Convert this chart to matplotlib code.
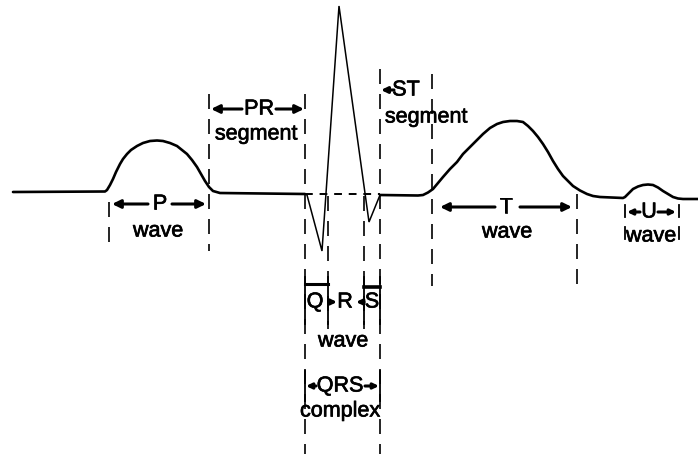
import matplotlib
matplotlib.use("Agg")
import matplotlib.pyplot as plt
import matplotlib.patheffects as pe

# ---- ECG trace (x, y in picture units, y down) ----
p_x = [13, 105, 107, 110, 113, 116, 120, 123, 127, 131, 137, 143, 150, 157, 163,
       170, 177, 182, 187, 192, 197, 201, 205, 209, 213, 220, 305]
p_y = [193, 192.5, 191, 186, 180, 173, 165, 160, 155, 151, 147, 144, 142, 141.5, 142,
       144, 147, 151, 155, 161, 168, 175, 182, 188, 192, 194, 195]

qrs_x = [305, 307, 322, 339, 369, 380]
qrs_y = [195, 196, 252, 7, 223, 196]

tu_x = [380, 418, 423, 428, 433, 438, 443, 450, 457, 463, 470, 477, 483, 490, 497,
        503, 510, 517, 523, 528, 533, 538, 543, 548, 553, 558, 563, 568, 573, 580,
        587, 593, 600, 623, 625, 629, 633, 638, 643, 648, 653, 658, 663, 668, 673,
        678, 683, 698]
tu_y = [196, 196.5, 196, 193.5, 190, 184, 178, 170, 163, 155, 148, 141, 135, 129, 125,
        123, 122, 122, 123, 127, 132, 138, 145, 153, 162, 170, 177, 182, 187, 191.5,
        195, 197, 198, 199, 198, 194, 190, 187.5, 186, 185.5, 186, 188.5, 192, 195, 198,
        199.5, 200, 200]

# isoelectric reference through the QRS
iso_x = [305, 380]
iso_y = [195, 195]

# interval boundaries (x) and their vertical extents
bound_x = [109, 209, 305, 328, 364, 380, 432, 577]
bound_top = [203, 95, 95, 197, 197, 70, 75, 195]
bound_bot = [252, 252, 455, 330, 330, 455, 287, 290]

labels = ["P", "wave", "PR", "segment", "ST", "segment", "T", "wave",
          "U", "wave", "Q", "R", "S", "wave", "QRS", "complex"]

fig = plt.figure(figsize=(6.98, 4.60), dpi=100)
ax = fig.add_axes([0, 0, 1, 1])
ax.set_xlim(0, 698)
ax.set_ylim(460, 0)
ax.axis("off")

ink = "black"
ax.plot(p_x, p_y, color=ink, lw=1.9, solid_capstyle="round", solid_joinstyle="round")
ax.plot(qrs_x, qrs_y, color=ink, lw=1.1, solid_joinstyle="miter")
ax.plot(tu_x, tu_y, color=ink, lw=1.9, solid_capstyle="round", solid_joinstyle="round")
ax.plot(iso_x, iso_y, color=ink, lw=1.4, linestyle=(0, (4, 3.5)))

for x, t, b in zip(bound_x, bound_top, bound_bot):
    ax.plot([x, x], [t, b], color=ink, lw=1.2, linestyle=(0, (9, 6)))

# short solid bars of the U wave bracket
for x in (625, 679):
    ax.plot([x, x], [206, 218], color=ink, lw=1.3)
    ax.plot([x, x], [228, 240], color=ink, lw=1.3)

fs = 15.5
FAM = ["Liberation Sans", "DejaVu Sans"]
def txt(s, x, y, size=fs):
    ax.text(x, y, s, ha="center", va="center", fontsize=size,
            family=FAM, color=ink,
            path_effects=[pe.withStroke(linewidth=0.5, foreground=ink)])

def arrow(x0, y0, x1, y1, ms=11):
    ax.annotate("", xy=(x1, y1), xytext=(x0, y0),
                arrowprops=dict(arrowstyle="-|>,head_length=0.45,head_width=0.22",
                                color=ink, lw=2.2, mutation_scale=ms,
                                shrinkA=0, shrinkB=0))

# P wave
txt(labels[0], 160, 205)
arrow(148, 205, 112, 205)
arrow(172, 205, 206, 205)
txt(labels[1], 158, 232)

# PR segment
txt(labels[2], 259, 110)
arrow(242, 110, 211, 110)
arrow(276, 110, 304, 110)
txt(labels[3], 256, 135)

# ST segment
txt(labels[4], 406, 91)
arrow(394, 91, 381, 91, ms=8)
txt(labels[5], 426, 118)

# T wave
txt(labels[6], 506, 208)
arrow(495, 208, 440, 208)
arrow(520, 208, 572, 208)
txt(labels[7], 507, 233)

# U wave
txt(labels[8], 649, 213)
arrow(640, 213, 627, 213, ms=7)
arrow(658, 213, 676, 213, ms=7)
txt(labels[9], 651, 237)

# Q, R, S waves
ax.plot([305, 328], [285, 285], color=ink, lw=2.2)
ax.plot([364, 380], [288, 288], color=ink, lw=2.6)
for x in (305, 328, 364, 380):
    ax.plot([x, x], [278, 325], color=ink, lw=1.3)
txt(labels[10], 315, 303)
txt(labels[11], 345, 303)
txt(labels[12], 372, 303)
arrow(329, 303, 337, 303, ms=7)
arrow(364, 303, 356, 303, ms=7)
txt(labels[13], 343, 342)

# QRS complex
for x in (305, 380):
    ax.plot([x, x], [372, 402], color=ink, lw=1.3)
txt(labels[14], 340, 387)
arrow(316, 387, 306, 387, ms=7)
arrow(365, 387, 379, 387, ms=7)
txt(labels[15], 340, 412)

fig.savefig("out.png", dpi=100, facecolor="white")
